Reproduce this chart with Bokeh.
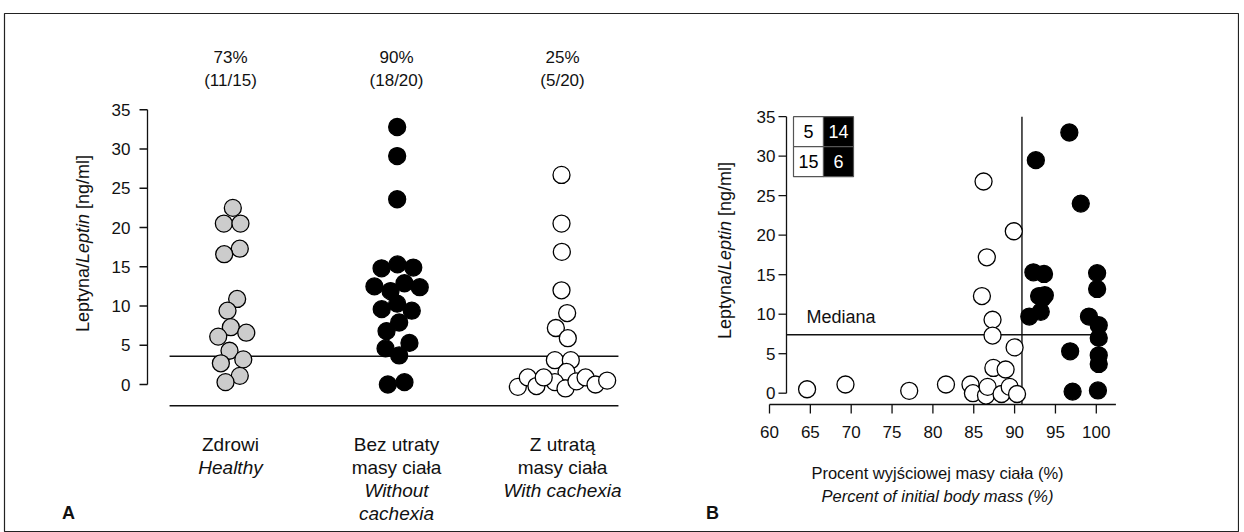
import math
from bokeh.plotting import figure
from bokeh.models import Range1d
from bokeh.embed import file_html
from bokeh.resources import INLINE
from bokeh.core.properties import value

FONT = "Liberation Sans"
INK = "#111111"

# ---------------- Panel A data ----------------
group_pos = [1, 2, 3]
groups_pl = [["Zdrowi"], ["Bez utraty", "masy ciała"], ["Z utratą", "masy ciała"]]
groups_en = [["Healthy"], ["Without", "cachexia"], ["With cachexia"]]
pct_labels = ["73%", "90%", "25%"]
frac_labels = ["(11/15)", "(18/20)", "(5/20)"]

healthy_vals = [22.5, 20.5, 20.5, 17.3, 16.6, 10.9, 9.4, 7.3, 6.6, 6.1, 4.3, 3.2, 2.7, 1.1, 0.3]
healthy_jit = [0.014, -0.040, 0.060, 0.056, -0.038, 0.040, -0.018, 0.002, 0.095, -0.074,
               -0.006, 0.077, -0.058, 0.056, -0.030]
nocach_vals = [32.8, 29.1, 23.6, 14.8, 15.3, 14.9, 12.5, 12.9, 12.4, 11.9, 10.3, 9.6, 9.4,
               7.9, 6.8, 5.3, 4.6, 3.7, 0.0, 0.3]
nocach_jit = [0.004, 0.004, 0.004, -0.090, 0.006, 0.101, -0.133, 0.048, 0.140, -0.036,
              0.004, -0.089, 0.092, 0.016, -0.060, 0.078, -0.066, 0.016, -0.052, 0.048]
cach_vals = [26.7, 20.5, 16.9, 12.0, 9.1, 7.2, 5.9, 3.1, 3.1, 1.6, 0.3, -0.5, -0.3, 0.9,
             -0.2, 0.9, 0.4, 0.9, 0.0, 0.5]
cach_jit = [-0.006, -0.006, -0.004, -0.006, 0.028, -0.040, 0.032, -0.046, 0.050, 0.024,
            -0.046, 0.018, -0.269, -0.209, -0.157, -0.113, 0.084, 0.139, 0.199, 0.269]
median_A = 3.6
baseline_A = -2.7
y_ticks = [0, 5, 10, 15, 20, 25, 30, 35]

# ---------------- Panel B data ----------------
white_x = [86.2, 89.9, 86.6, 86.0, 87.3, 87.3, 90.0, 87.4, 88.9, 64.6, 69.3, 77.1, 81.6,
           84.6, 84.9, 86.5, 86.7, 88.4, 89.4, 90.3]
white_y = [26.8, 20.5, 17.2, 12.3, 9.3, 7.3, 5.8, 3.2, 3.0, 0.5, 1.1, 0.3, 1.1,
           1.1, 0.0, -0.3, 0.8, -0.1, 0.8, -0.1]
black_x = [96.7, 92.6, 98.1, 92.3, 93.6, 100.1, 100.1, 93.0, 93.7, 93.4, 91.8, 93.2, 99.1,
           100.3, 100.3, 96.8, 100.3, 100.3, 97.1, 100.2]
black_y = [33.0, 29.5, 24.0, 15.3, 15.1, 15.2, 13.2, 12.3, 12.4, 12.0, 9.7, 10.3, 9.7,
           8.6, 7.0, 5.3, 4.8, 3.7, 0.2, 0.35]
median_B = 7.4
cutoff_B = 90.9
x_ticks_B = [60, 65, 70, 75, 80, 85, 90, 95, 100]
x_axis_end_B = 102.4
inset_counts = [[5, 14], [15, 6]]
median_text = "Mediana"
xlabel_pl = "Procent wyjściowej masy ciała (%)"
xlabel_en = "Percent of initial body mass (%)"
ylabel_parts = [("Leptyna/", "normal"), ("Leptin", "italic"), (" [ng/ml]", "normal")]
panel_letters = ["A", "B"]

# ---------------- page geometry (pixels) ----------------
W, H = 1236, 520          # figure placed at page (3, 12); page origin is (0, 0)
OX, OY = 3, 12
FL, FR, FT, FB = OX + 1, OX + W - 1, OY + 1, OY + H - 1   # frame extents on page


# panel A mapping: group 1 at page x 230, 166 px per group; 0 at page y 384, 7.85 px/unit
def ax(px): return 1 + (px - 230) / 166.0
def ay(py): return (384 - py) / 7.85
# panel B mapping: 60 at page x 769, 8.17 px/unit; 0 at page y 392.7, 7.9 px/unit
def bx(px): return 60 + (px - 769) / 8.17
def by(py): return (392.7 - py) / 7.9


ARIAL = {"L": 556, "e": 556, "p": 556, "t": 278, "y": 500, "n": 556, "a": 556, "/": 278,
         "i": 222, " ": 278, "[": 278, "g": 556, "m": 833, "l": 222, "]": 278}


def text_w(s, size):
    return sum(ARIAL.get(c, 556) for c in s) / 1000.0 * size


p = figure(width=W, height=H, output_backend="svg", toolbar_location=None,
           x_range=Range1d(ax(FL), ax(FR)), y_range=Range1d(ay(FB), ay(FT)),
           min_border=1, min_border_left=1, min_border_right=1, min_border_top=1,
           min_border_bottom=1,
           styles={"position": "relative", "left": f"{OX}px", "top": f"{OY}px"})
p.extra_x_ranges = {"xb": Range1d(bx(FL), bx(FR))}
p.extra_y_ranges = {"yb": Range1d(by(FB), by(FT))}
p.xaxis.visible = False
p.yaxis.visible = False
p.xgrid.visible = False
p.ygrid.visible = False
p.outline_line_color = "#222222"
p.outline_line_width = 1.2
p.background_fill_color = "white"
p.border_fill_color = "white"

TXT = dict(text_font=value(FONT), text_color=INK)
BKW = dict(x_range_name="xb", y_range_name="yb")


def rotated_label(xc, yc_page, ymap, size, **kw):
    total = sum(text_w(t, size) for t, _ in ylabel_parts)
    start = yc_page + total / 2
    for t, st in ylabel_parts:
        lead = len(t) - len(t.lstrip(" "))
        start -= text_w(" " * lead, size)
        t = t.lstrip(" ")
        p.text(x=[xc], y=[ymap(start)], text=[t], angle=math.pi / 2, text_font_size=f"{size}px",
               text_font_style=st, text_align="left", text_baseline="middle", **TXT, **kw)
        start -= text_w(t, size)


# ================= Panel A =================
xa_axis = ax(147)
p.segment(x0=[xa_axis], y0=[y_ticks[0]], x1=[xa_axis], y1=[y_ticks[-1]], line_color=INK, line_width=1.3)
p.segment(x0=[ax(139)] * len(y_ticks), y0=y_ticks, x1=[xa_axis] * len(y_ticks), y1=y_ticks,
          line_color=INK, line_width=1.3)
p.text(x=[ax(130)] * len(y_ticks), y=y_ticks, text=[str(t) for t in y_ticks], text_font_size="17px",
       text_align="right", text_baseline="middle", **TXT)

line_x0 = group_pos[0] - 0.367
line_x1 = group_pos[-1] + 0.337
p.segment(x0=[line_x0, line_x0], y0=[median_A, baseline_A], x1=[line_x1, line_x1],
          y1=[median_A, baseline_A], line_color=INK, line_width=1.4)

for gx, vals, jit, fill in [(group_pos[0], healthy_vals, healthy_jit, "#cccccc"),
                            (group_pos[1], nocach_vals, nocach_jit, "#000000"),
                            (group_pos[2], cach_vals, cach_jit, "#ffffff")]:
    p.scatter(x=[gx + j for j in jit], y=vals, size=17, fill_color=fill,
              line_color="#000000", line_width=1.3)

p.text(x=group_pos, y=[ay(57)] * 3, text=pct_labels, text_font_size="17px",
       text_align="center", text_baseline="middle", **TXT)
p.text(x=group_pos, y=[ay(80)] * 3, text=frac_labels, text_font_size="17px",
       text_align="center", text_baseline="middle", **TXT)

nx, ny, nt, ix, iy, it = [], [], [], [], [], []
for gx, pl, en in zip(group_pos, groups_pl, groups_en):
    k = 0
    for t in pl:
        nx.append(gx); ny.append(ay(444 + 23 * k)); nt.append(t); k += 1
    for t in en:
        ix.append(gx); iy.append(ay(444 + 23 * k)); it.append(t); k += 1
p.text(x=nx, y=ny, text=nt, text_font_size="19px", text_align="center",
       text_baseline="middle", **TXT)
p.text(x=ix, y=iy, text=it, text_font_size="19px", text_font_style="italic",
       text_align="center", text_baseline="middle", **TXT)

rotated_label(ax(82), 243, ay, 18)
p.text(x=[ax(68)], y=[ay(512)], text=[panel_letters[0]], text_font_size="18px",
       text_font_style="bold", text_align="center", text_baseline="middle", **TXT)

# ================= Panel B =================
xb_axis = bx(786)
yb_axis = by(404)
p.segment(x0=[xb_axis], y0=[y_ticks[0]], x1=[xb_axis], y1=[y_ticks[-1]], line_color=INK,
          line_width=1.3, **BKW)
p.segment(x0=[bx(778)] * len(y_ticks), y0=y_ticks, x1=[xb_axis] * len(y_ticks), y1=y_ticks,
          line_color=INK, line_width=1.3, **BKW)
p.text(x=[bx(775)] * len(y_ticks), y=y_ticks, text=[str(t) for t in y_ticks], text_font_size="17px",
       text_align="right", text_baseline="middle", **TXT, **BKW)

p.segment(x0=[x_ticks_B[0]], y0=[yb_axis], x1=[x_axis_end_B], y1=[yb_axis], line_color=INK,
          line_width=1.3, **BKW)
p.segment(x0=x_ticks_B, y0=[yb_axis] * len(x_ticks_B), x1=x_ticks_B, y1=[by(413)] * len(x_ticks_B),
          line_color=INK, line_width=1.3, **BKW)
p.text(x=x_ticks_B, y=[by(431)] * len(x_ticks_B), text=[str(t) for t in x_ticks_B],
       text_font_size="17px", text_align="center", text_baseline="middle", **TXT, **BKW)

# median and cut-off lines
p.segment(x0=[xb_axis, cutoff_B], y0=[median_B, yb_axis], x1=[100.6, cutoff_B],
          y1=[median_B, y_ticks[-1]], line_color=INK, line_width=1.4, **BKW)
p.text(x=[bx(806)], y=[by(316)], text=[median_text], text_font_size="18px", text_align="left",
       text_baseline="middle", **TXT, **BKW)

p.scatter(x=white_x, y=white_y, size=17, fill_color="#ffffff", line_color="#000000",
          line_width=1.3, **BKW)
p.scatter(x=black_x, y=black_y, size=17, fill_color="#000000", line_color="#000000",
          line_width=1.3, **BKW)

# inset table
cw, ch = 30 / 8.17, 30 / 7.9
ix0, iy0 = bx(793), y_ticks[-1]
cx, cy, cf, ct, tc = [], [], [], [], []
for r_i, rowvals in enumerate(inset_counts):
    for c_i, n in enumerate(rowvals):
        cx.append(ix0 + (c_i + 0.5) * cw)
        cy.append(iy0 - (r_i + 0.5) * ch)
        cf.append("#ffffff" if c_i == 0 else "#000000")
        ct.append(str(n))
        tc.append("#000000" if c_i == 0 else "#ffffff")
p.rect(x=cx, y=cy, width=cw, height=ch, fill_color=cf, line_color="#555555", line_width=1.2, **BKW)
p.text(x=cx, y=cy, text=ct, text_color=tc, text_font=value(FONT), text_font_size="18px",
       text_align="center", text_baseline="middle", **BKW)

p.text(x=[bx(937)], y=[by(472)], text=[xlabel_pl], text_font_size="16.5px", text_align="center",
       text_baseline="middle", **TXT, **BKW)
p.text(x=[bx(937)], y=[by(495)], text=[xlabel_en], text_font_size="16.5px", text_font_style="italic",
       text_align="center", text_baseline="middle", **TXT, **BKW)
rotated_label(bx(724), 250, by, 18, **BKW)
p.text(x=[bx(712)], y=[by(512)], text=[panel_letters[1]], text_font_size="18px",
       text_font_style="bold", text_align="center", text_baseline="middle", **TXT, **BKW)

open("out.html", "w").write(file_html(p, INLINE))
